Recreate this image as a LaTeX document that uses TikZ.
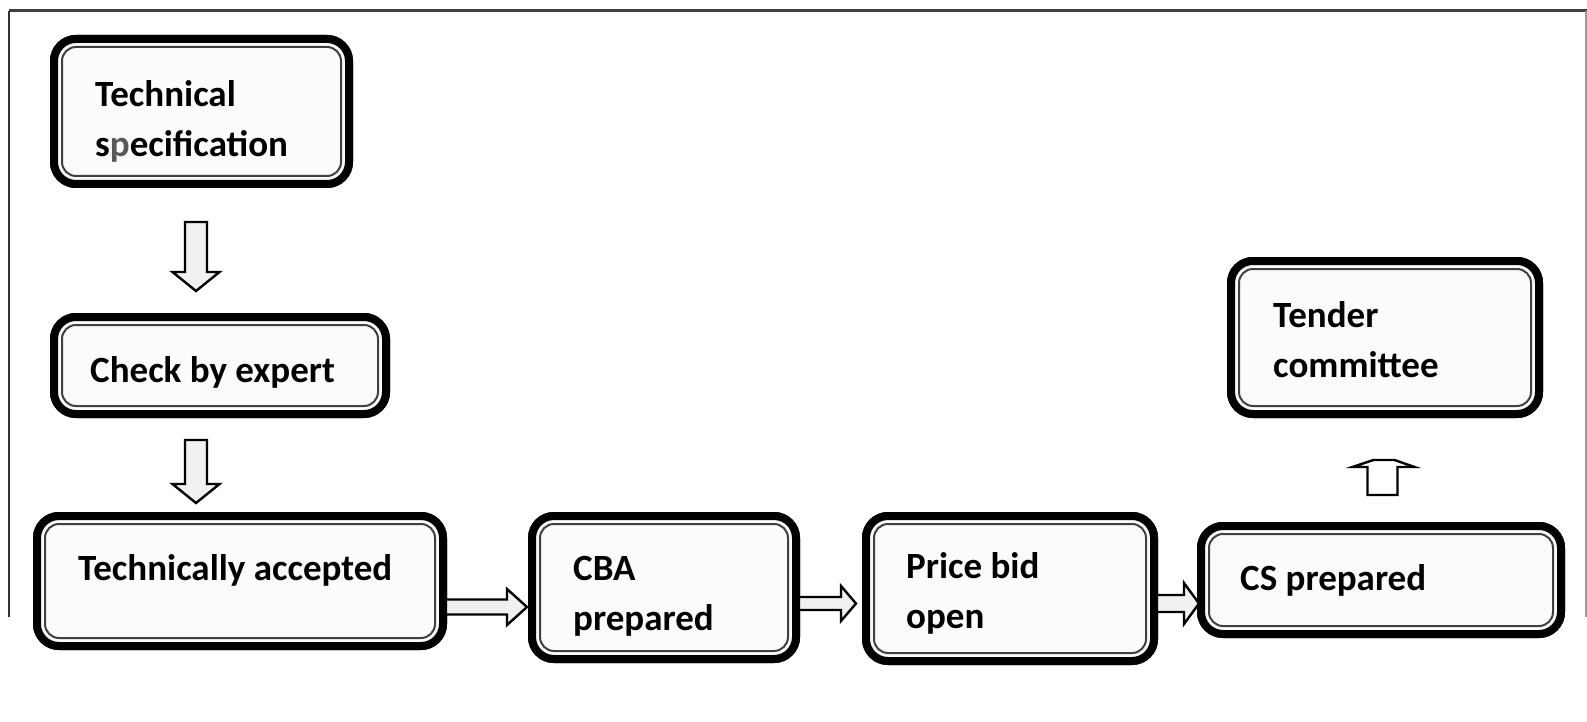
\documentclass[tikz,border=0pt]{standalone}
\usepackage{fontspec}
\setmainfont{Carlito}
\usetikzlibrary{calc}

% block arrows built from two reference points (start, tip)
\newcommand\blockdown[5]{% start, tip, shaft half-width, head half-width, head length
  \draw[blockarrow] let \p1=#1, \p2=#2 in
    (\x1-#3,\y1) -- (\x1+#3,\y1) -- (\x1+#3,\y2+#5) -- (\x1+#4,\y2+#5)
    -- (\x1,\y2) -- (\x1-#4,\y2+#5) -- (\x1-#3,\y2+#5) -- cycle;}
\newcommand\blockright[5]{%
  \draw[blockarrow] let \p1=#1, \p2=#2 in
    (\x1,\y1+#3) -- (\x2-#5,\y1+#3) -- (\x2-#5,\y1+#4) -- (\x2,\y1)
    -- (\x2-#5,\y1-#4) -- (\x2-#5,\y1-#3) -- (\x1,\y1-#3) -- cycle;}

\begin{document}
\begin{tikzpicture}[x=1pt,y=-1pt,
  box/.style={draw=black, line width=8pt, rounded corners=22pt, fill=black!1.5,
    inner sep=0pt, outer sep=0pt},
  innerline/.style={draw=black!75, line width=2pt, rounded corners=14pt},
  label/.style={anchor=base west, align=left, inner sep=0pt,
    font=\fontsize{37}{50}\selectfont\bfseries},
  blockarrow/.style={draw=black, line width=2.4pt, fill=black!6, line join=miter}]

% page and frame lines
\fill[white] (0,0) rectangle (1587,722);
\useasboundingbox (0,0) rectangle (1587,722);
\draw[black!75, line width=3pt] (9,11) -- (1587,11);
\draw[black!80, line width=2pt] (9,11) -- (9,617);
\draw[black!40, line width=1.5pt] (1586,11) -- (1586,617);

% box outlines (positions are the centres of the thick frames)
\path (201.5,111.5) node[box, minimum width=295pt, minimum height=145pt] (tech) {};
\path (220,365.5)   node[box, minimum width=332pt, minimum height=97pt]  (check) {};
\path (240,581)     node[box, minimum width=406pt, minimum height=130pt] (acc) {};
\path (664,587.5)   node[box, minimum width=264pt, minimum height=143pt] (cba) {};
\path (1010,588.5)  node[box, minimum width=288pt, minimum height=145pt] (price) {};
\path (1381,580)    node[box, minimum width=360pt, minimum height=108pt] (cs) {};
\path (1385,337.5)  node[box, minimum width=308pt, minimum height=153pt] (tender) {};

% arrows between the steps
\blockdown{($(tech.south)+(-5.5,38)$)}{($(check.north)+(0,-26)$)}{11pt}{23.5pt}{19pt}
\blockdown{($(check.south)+(-24,26)$)}{($(acc.north)+(0,-13)$)}{11pt}{23.5pt}{19pt}
\blockright{($(acc.east)+(-3,26)$)}{($(cba.west)+(-5,0)$)}{7.5pt}{18pt}{20pt}
\blockright{($(cba.east)+(-3,16)$)}{($(price.west)+(-10,0)$)}{6.5pt}{17.5pt}{15pt}
\blockright{($(price.east)+(-3,15)$)}{($(cs.west)+(-2,0)$)}{8.5pt}{20.5pt}{15pt}
% flattened upward arrow from CS to the committee
\draw[blockarrow, fill=white] let \p1=($(cs.north)+(1.5,-31)$) in
  (\x1-15pt,\y1) -- (\x1-15pt,\y1+28pt) -- (\x1-30pt,\y1+28pt) -- (\x1-9pt,\y1+35pt)
  -- (\x1+12pt,\y1+35pt) -- (\x1+32pt,\y1+28pt) -- (\x1+15pt,\y1+28pt) -- (\x1+15pt,\y1) -- cycle;

% redraw the boxes above the arrow ends
\foreach \n in {tech,check,acc,cba,price,cs,tender}{
  \path[box] (\n.north west) rectangle (\n.south east);
  \draw[innerline] ([shift={(8,8)}]\n.north west) rectangle ([shift={(-8,-8)}]\n.south east);
}

% step labels (anchored at the baseline of the last line)
\node[label] (tech-t)   at ($(tech.north west)+(41,118)$)   {Technical\\s{\color{black!65}p}ecification};
\node[label] (check-t)  at ($(check.north west)+(36,65)$)   {Check by expert};
\node[label] (acc-t)    at ($(acc.north west)+(41,64)$)     {Technically accepted};
\node[label] (cba-t)    at ($(cba.north west)+(41,114)$)    {CBA\\prepared};
\node[label] (price-t)  at ($(price.north west)+(40,112)$)  {Price bid\\open};
\node[label] (cs-t)     at ($(cs.north west)+(39,64)$)      {CS prepared};
\node[label] (tender-t) at ($(tender.north west)+(42,116)$) {Tender\\committee};
\end{tikzpicture}
\end{document}
